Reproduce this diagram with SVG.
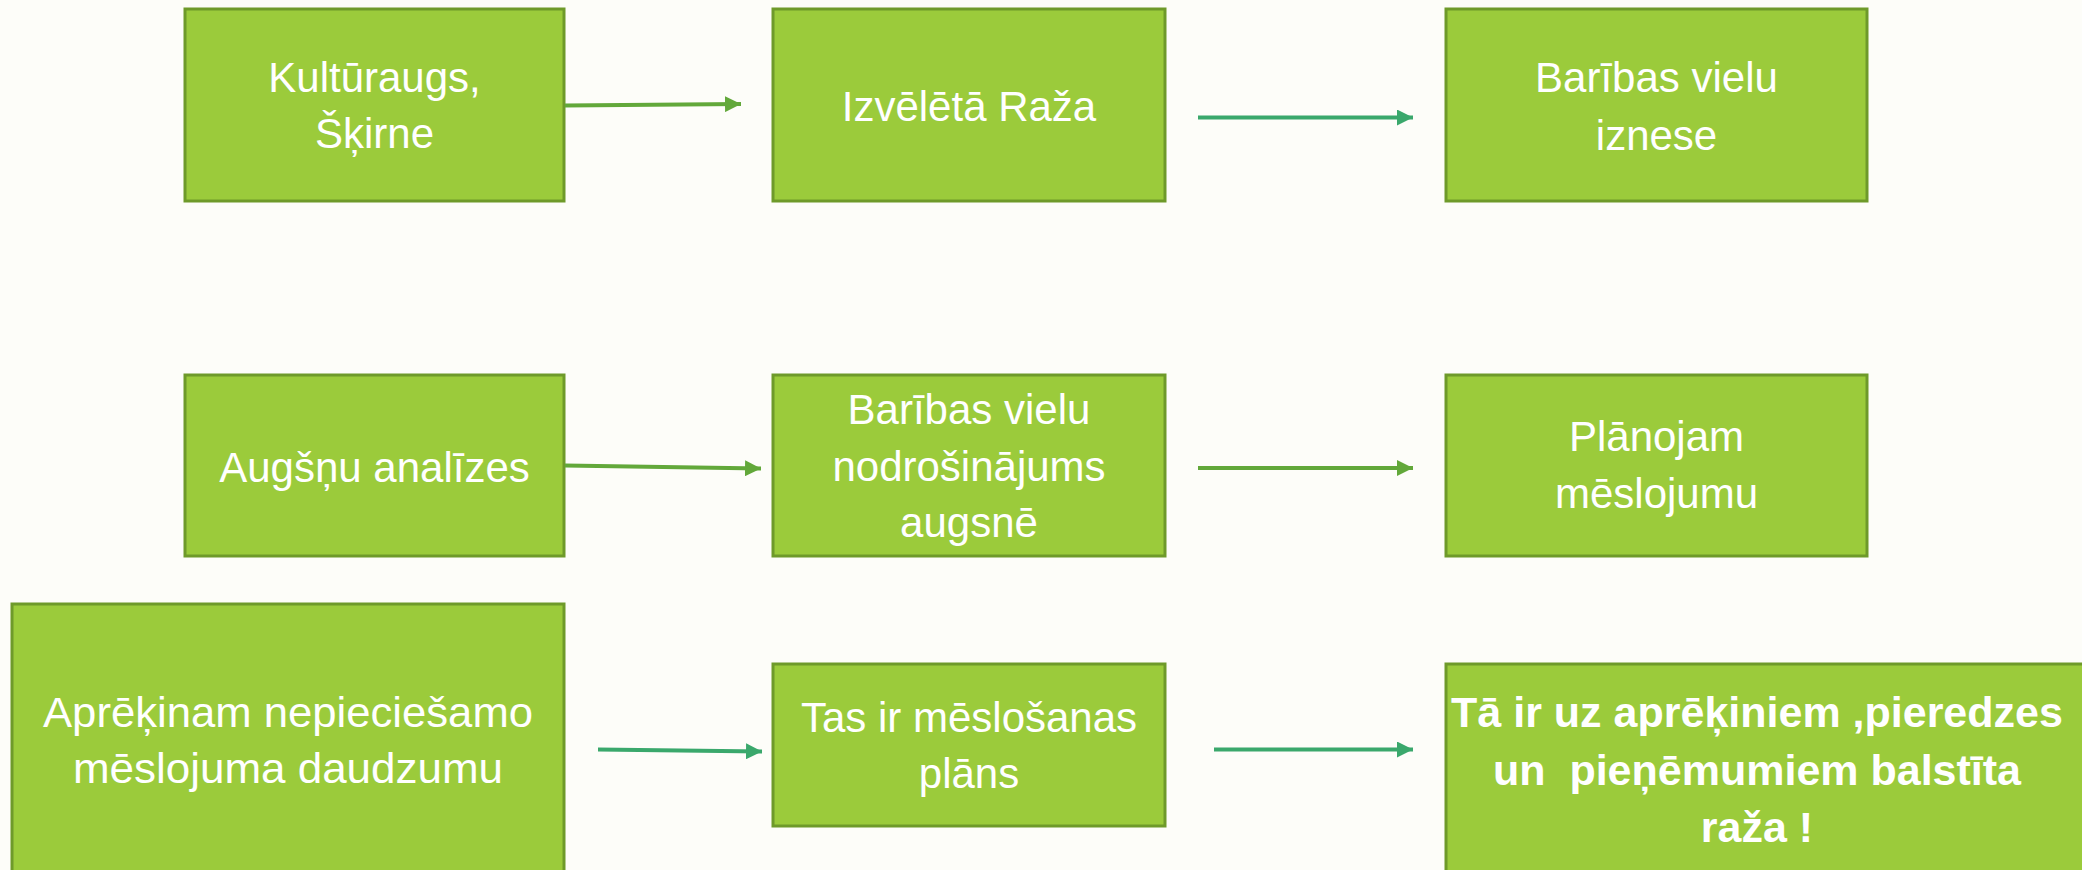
<svg xmlns="http://www.w3.org/2000/svg" width="2082" height="870" viewBox="0 0 2082 870">
<style>
.box{fill:#9BCB3B;stroke:#6E9A2A;stroke-width:3}
.t{font-family:"Liberation Sans",Arial,sans-serif;font-size:42px;fill:#FFFFFF;text-anchor:middle}
.b{font-weight:bold;font-size:43px}
.a1{stroke:#62A83A;stroke-width:4;fill:none}
.a2{stroke:#3AA86C;stroke-width:4;fill:none}
</style>
<defs>
<marker id="m1" viewBox="0 0 10 10" refX="10" refY="5" markerWidth="4" markerHeight="4" orient="auto" markerUnits="strokeWidth"><path d="M0,0L10,5L0,10z" fill="#62A83A"/></marker>
<marker id="m2" viewBox="0 0 10 10" refX="10" refY="5" markerWidth="4" markerHeight="4" orient="auto" markerUnits="strokeWidth"><path d="M0,0L10,5L0,10z" fill="#3AA86C"/></marker>
</defs>
<rect width="2082" height="870" fill="#FDFDF9"/>
<g id="n1"><rect class="box" x="185" y="9" width="379" height="192"/><text class="t" x="374.5" y="92">Kultūraugs,</text><text class="t" x="374.5" y="148">Šķirne</text></g>
<g id="n2"><rect class="box" x="773" y="9" width="392" height="192"/><text class="t" x="969" y="121">Izvēlētā Raža</text></g>
<g id="n3"><rect class="box" x="1446" y="9" width="421" height="192"/><text class="t" x="1656.5" y="92">Barības vielu</text><text class="t" x="1656.5" y="150">iznese</text></g>
<g id="n4"><rect class="box" x="185" y="375" width="379" height="181"/><text class="t" x="374.5" y="482">Augšņu analīzes</text></g>
<g id="n5"><rect class="box" x="773" y="375" width="392" height="181"/><text class="t" x="969" y="424">Barības vielu</text><text class="t" x="969" y="481">nodrošinājums</text><text class="t" x="969" y="537">augsnē</text></g>
<g id="n6"><rect class="box" x="1446" y="375" width="421" height="181"/><text class="t" x="1656.5" y="451">Plānojam</text><text class="t" x="1656.5" y="508">mēslojumu</text></g>
<g id="n7"><rect class="box" x="12" y="604" width="552" height="280"/><text class="t" x="288" y="727" textLength="490" lengthAdjust="spacingAndGlyphs">Aprēķinam nepieciešamo</text><text class="t" x="288" y="783" textLength="430" lengthAdjust="spacingAndGlyphs">mēslojuma daudzumu</text></g>
<g id="n8"><rect class="box" x="773" y="664" width="392" height="162"/><text class="t" x="969" y="732">Tas ir mēslošanas</text><text class="t" x="969" y="788">plāns</text></g>
<g id="n9"><rect class="box" x="1446" y="664" width="642" height="220"/><text class="t b" x="1757" y="727">Tā ir uz aprēķiniem ,pieredzes</text><text class="t b" x="1757" y="785" xml:space="preserve">un  pieņēmumiem balstīta</text><text class="t b" x="1757" y="842">raža !</text></g>
<g id="connectors">
<line class="a1" x1="565" y1="105.5" x2="741" y2="104" marker-end="url(#m1)"/>
<line class="a2" x1="1198" y1="117.5" x2="1413" y2="117.5" marker-end="url(#m2)"/>
<line class="a1" x1="565" y1="465.5" x2="761" y2="468.5" marker-end="url(#m1)"/>
<line class="a1" x1="1198" y1="468" x2="1413" y2="468" marker-end="url(#m1)"/>
<line class="a2" x1="598" y1="749.5" x2="762" y2="751.5" marker-end="url(#m2)"/>
<line class="a2" x1="1214" y1="749.5" x2="1413" y2="749.5" marker-end="url(#m2)"/>
</g>
</svg>
